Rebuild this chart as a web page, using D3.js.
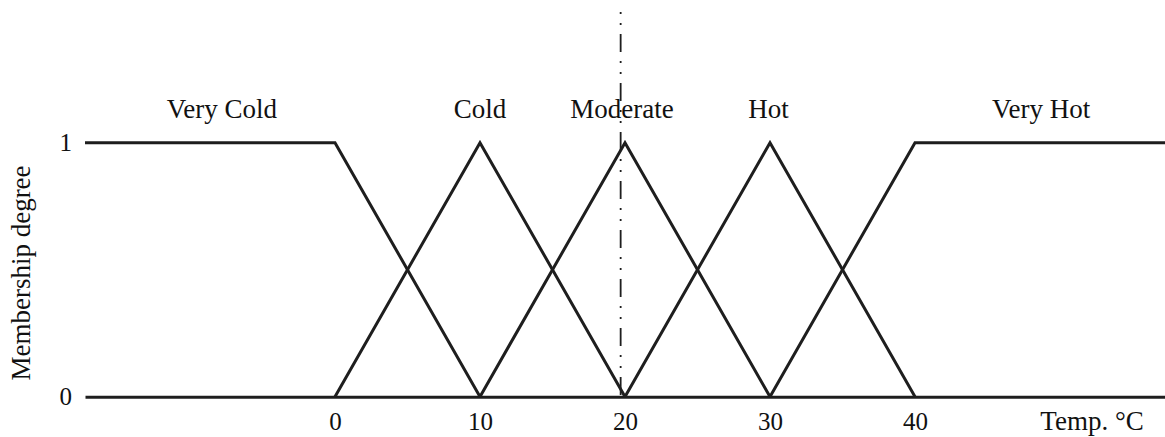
<!DOCTYPE html>
<html lang="en">
<head>
    <meta charset="UTF-8">
    <title>Temperature membership functions</title>
    <style>
        body { margin: 0; background: #fff; }
        svg text { font-family: "Liberation Serif", "Times New Roman", serif; fill: #111; }
    </style>
</head>
<body>
    <div id="chart"></div>
    <script src="https://d3js.org/d3.v7.min.js"></script>
    <script>
        // Membership functions (temperature, degree)
        const veryCold = [[-17.24, 1], [0, 1], [10, 0]];
        const cold = [[0, 0], [10, 1], [20, 0]];
        const moderate = [[10, 0], [20, 1], [30, 0]];
        const hot = [[20, 0], [30, 1], [40, 0]];
        const veryHot = [[30, 0], [40, 1], [57.24, 1]];
        const sets = [veryCold, cold, moderate, hot, veryHot];

        const setNames = ["Very Cold", "Cold", "Moderate", "Hot", "Very Hot"];
        const nameX = [-7.8, 10, 19.8, 29.9, 48.7];

        const xTicks = [0, 10, 20, 30, 40];
        const yTicks = [0, 1];
        const markerX = 19.7;   // dash-dot line
        const markerTop = 1.515;

        const W = 1165, H = 437;
        const margin = { top: 142.7, right: 0, bottom: 40.3, left: 85 };
        const width = W - margin.left - margin.right;
        const height = H - margin.top - margin.bottom;

        const svg = d3.select("#chart").append("svg")
            .attr("width", W).attr("height", H);
        const g = svg.append("g")
            .attr("transform", `translate(${margin.left},${margin.top})`);

        const x = d3.scaleLinear().domain([-17.24, 57.24]).range([0, width]);
        const y = d3.scaleLinear().domain([0, 1]).range([height, 0]);

        // x axis (the baseline)
        const xAxis = g.append("g")
            .attr("transform", `translate(0,${height})`)
            .call(d3.axisBottom(x).tickValues(xTicks).tickSize(0).tickPadding(16));
        xAxis.select(".domain").attr("stroke", "#1e1e1e").attr("stroke-width", 3);
        xAxis.selectAll("text").style("font-size", "25px");

        // y axis labels only
        const yAxis = g.append("g")
            .call(d3.axisLeft(y).tickValues(yTicks).tickFormat(d3.format("d")).tickSize(0).tickPadding(13));
        yAxis.select(".domain").remove();
        yAxis.selectAll("text").style("font-size", "25px");

        // membership lines
        const line = d3.line().x(d => x(d[0])).y(d => y(d[1]));
        g.selectAll(".mf")
            .data(sets)
            .enter().append("path")
            .attr("class", "mf")
            .attr("d", line)
            .attr("fill", "none")
            .attr("stroke", "#1e1e1e")
            .attr("stroke-width", 3)
            .attr("stroke-linejoin", "miter");

        // dash-dot reference line
        g.append("line")
            .attr("x1", x(markerX)).attr("x2", x(markerX))
            .attr("y1", y(markerTop)).attr("y2", y(0))
            .attr("stroke", "#1e1e1e")
            .attr("stroke-width", 1.8)
            .attr("stroke-dasharray", "2,9,2,9,18,9");

        // set names
        g.selectAll(".name")
            .data(setNames)
            .enter().append("text")
            .attr("class", "name")
            .attr("x", (d, i) => x(nameX[i]))
            .attr("y", 118 - margin.top)
            .attr("text-anchor", "middle")
            .style("font-size", "27px")
            .text(d => d);

        // axis titles
        svg.append("text")
            .attr("x", 1092).attr("y", 430)
            .attr("text-anchor", "middle")
            .style("font-size", "27px")
            .text("Temp. °C");

        svg.append("text")
            .attr("transform", "translate(30,273) rotate(-90)")
            .attr("text-anchor", "middle")
            .style("font-size", "27px")
            .text("Membership degree");
    </script>
</body>
</html>
